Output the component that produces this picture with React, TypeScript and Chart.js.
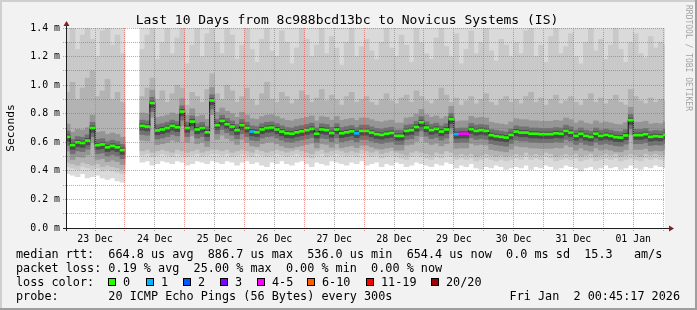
import React, { useEffect, useRef } from 'react';
import { Chart, registerables } from 'chart.js';

Chart.register(...registerables);

// ---- time buckets: 2-hour buckets, hours since 23 Dec 00:00 ----
const bucketStart: number[] = Array.from({ length: 121 }, (_, i) => i * 2);
const viewStart = 0.75; // 23 Dec 00:45:17
const viewEnd = 240.75; // 02 Jan 00:45:17

const xTickHours = [12, 36, 60, 84, 108, 132, 156, 180, 204, 228];
const xTickLabels = ['23 Dec', '24 Dec', '25 Dec', '26 Dec', '27 Dec', '28 Dec', '29 Dec', '30 Dec', '31 Dec', '01 Jan'];
const yTicks = [0, 0.1, 0.2, 0.3, 0.4, 0.5, 0.6, 0.7, 0.8, 0.9, 1.0, 1.1, 1.2, 1.3, 1.4];

// median rtt (ms) per bucket
const medianRtt: (number | null)[] = [
  0.638, 0.58, 0.60, 0.595, 0.612, 0.70, 0.58, 0.585, 0.565, 0.575,
  0.565, 0.545, null, null, null, 0.715, 0.71, 0.875, 0.683, 0.69,
  0.70, 0.715, 0.705, 0.815, 0.70, 0.745, 0.69, 0.70, 0.67, 0.893,
  0.72, 0.75, 0.727, 0.71, 0.685, 0.72, 0.70, 0.675, 0.67, 0.69,
  0.70, 0.703, 0.69, 0.675, 0.663, 0.66, 0.67, 0.677, 0.685, 0.694,
  0.66, 0.69, 0.685, 0.665, 0.69, 0.663, 0.67, 0.677, 0.663, 0.68,
  0.68, 0.668, 0.657, 0.652, 0.66, 0.665, 0.645, 0.645, 0.68, 0.685,
  0.707, 0.74, 0.703, 0.685, 0.694, 0.675, 0.69, 0.762, 0.657, 0.66,
  0.66, 0.692, 0.68, 0.685, 0.68, 0.65, 0.643, 0.638, 0.633, 0.652,
  0.675, 0.668, 0.668, 0.66, 0.66, 0.657, 0.657, 0.657, 0.663, 0.66,
  0.68, 0.668, 0.645, 0.66, 0.645, 0.638, 0.66, 0.645, 0.652, 0.645,
  0.636, 0.633, 0.648, 0.755, 0.65, 0.65, 0.657, 0.638, 0.643, 0.64,
  0.652,
];

// lowest ping per bucket (bottom of the smoke)
const smokeMin: (number | null)[] = [
  0.38, 0.37, 0.36, 0.38, 0.35, 0.36, 0.37, 0.35, 0.34, 0.35,
  0.33, 0.32, null, null, null, 0.46, 0.47, 0.44, 0.45, 0.47,
  0.46, 0.45, 0.47, 0.46, 0.44, 0.45, 0.47, 0.46, 0.45, 0.47,
  0.46, 0.45, 0.47, 0.46, 0.44, 0.46, 0.47, 0.45, 0.46, 0.44,
  0.43, 0.46, 0.45, 0.47, 0.45, 0.44, 0.46, 0.47, 0.45, 0.43,
  0.46, 0.45, 0.44, 0.47, 0.46, 0.45, 0.44, 0.46, 0.45, 0.47,
  0.44, 0.45, 0.46, 0.43, 0.45, 0.44, 0.46, 0.45, 0.43, 0.44,
  0.46, 0.45, 0.44, 0.43, 0.45, 0.44, 0.46, 0.45, 0.42, 0.44,
  0.43, 0.45, 0.42, 0.41, 0.43, 0.42, 0.44, 0.43, 0.41, 0.42,
  0.43, 0.42, 0.44, 0.41, 0.43, 0.42, 0.44, 0.43, 0.41, 0.42,
  0.44, 0.43, 0.42, 0.40, 0.42, 0.43, 0.41, 0.42, 0.44, 0.42,
  0.43, 0.41, 0.42, 0.44, 0.42, 0.41, 0.43, 0.42, 0.44, 0.43,
  0.42,
];

// lower quartile-ish ping per bucket
const smokeLowQ: (number | null)[] = [
  0.46, 0.45, 0.44, 0.46, 0.45, 0.44, 0.45, 0.43, 0.44, 0.43,
  0.42, 0.41, null, null, null, 0.54, 0.55, 0.53, 0.54, 0.55,
  0.54, 0.53, 0.55, 0.54, 0.53, 0.54, 0.55, 0.53, 0.54, 0.55,
  0.55, 0.54, 0.55, 0.53, 0.54, 0.55, 0.54, 0.53, 0.55, 0.54,
  0.53, 0.54, 0.55, 0.54, 0.53, 0.54, 0.55, 0.54, 0.53, 0.52,
  0.54, 0.55, 0.53, 0.54, 0.55, 0.54, 0.53, 0.54, 0.53, 0.55,
  0.54, 0.53, 0.54, 0.52, 0.53, 0.54, 0.53, 0.52, 0.51, 0.53,
  0.54, 0.53, 0.52, 0.51, 0.53, 0.52, 0.54, 0.53, 0.51, 0.52,
  0.51, 0.52, 0.50, 0.51, 0.52, 0.51, 0.50, 0.51, 0.50, 0.51,
  0.52, 0.51, 0.53, 0.51, 0.52, 0.51, 0.53, 0.52, 0.50, 0.51,
  0.52, 0.51, 0.52, 0.50, 0.51, 0.52, 0.50, 0.51, 0.52, 0.51,
  0.52, 0.50, 0.51, 0.52, 0.51, 0.50, 0.52, 0.51, 0.52, 0.51,
  0.51,
];

// upper quartile-ish ping per bucket
const smokeHighQ: (number | null)[] = [
  0.95, 1.02, 0.90, 0.98, 1.05, 1.10, 0.92, 0.96, 1.04, 0.90,
  0.95, 0.88, null, null, null, 0.92, 0.98, 1.05, 0.90, 0.96,
  0.88, 0.94, 1.00, 0.98, 0.86, 0.95, 0.92, 0.88, 0.97, 1.08,
  0.94, 0.90, 1.00, 0.96, 0.88, 0.92, 0.98, 0.90, 0.86, 0.94,
  1.02, 0.90, 0.88, 0.95, 0.92, 0.87, 0.90, 0.96, 0.93, 0.88,
  0.91, 0.97, 0.89, 0.93, 0.90, 0.86, 0.92, 0.95, 0.88, 0.90,
  0.92, 0.88, 0.86, 0.90, 0.94, 0.89, 0.87, 0.91, 0.93, 0.88,
  0.96, 0.92, 0.89, 0.87, 0.90, 0.98, 0.93, 0.88, 0.91, 0.86,
  0.89, 0.92, 0.87, 0.90, 0.94, 0.88, 0.86, 0.90, 0.92, 0.88,
  0.90, 0.87, 0.92, 0.95, 0.88, 0.91, 0.86, 0.90, 0.93, 0.87,
  0.89, 0.92, 0.88, 0.86, 0.90, 0.94, 0.88, 0.91, 0.87, 0.90,
  0.93, 0.88, 0.86, 0.97, 0.92, 0.89, 0.87, 0.91, 0.88, 0.90,
  0.89,
];

// high ping per bucket (top of the mid smoke, clipped at 1.4)
const smokeTop: (number | null)[] = [
  1.30, 1.40, 1.25, 1.35, 1.40, 1.32, 1.20, 1.38, 1.40, 1.28,
  1.35, 1.22, null, null, null, 1.25, 1.35, 1.40, 1.18, 1.30,
  1.40, 1.22, 1.33, 1.40, 1.15, 1.28, 1.40, 1.20, 1.36, 1.40,
  1.30, 1.22, 1.40, 1.35, 1.18, 1.28, 1.40, 1.25, 1.16, 1.32,
  1.40, 1.24, 1.20, 1.38, 1.30, 1.15, 1.26, 1.40, 1.32, 1.20,
  1.28, 1.40, 1.22, 1.34, 1.26, 1.14, 1.30, 1.40, 1.20, 1.27,
  1.32, 1.24, 1.18, 1.30, 1.40, 1.26, 1.20, 1.35, 1.28, 1.16,
  1.40, 1.30, 1.22, 1.18, 1.33, 1.40, 1.27, 1.20, 1.36, 1.15,
  1.25, 1.38, 1.22, 1.30, 1.40, 1.24, 1.17, 1.32, 1.28, 1.20,
  1.30, 1.22, 1.38, 1.40, 1.20, 1.28, 1.16, 1.34, 1.40, 1.22,
  1.27, 1.36, 1.20, 1.15, 1.30, 1.40, 1.24, 1.32, 1.18, 1.28,
  1.40, 1.25, 1.16, 1.30, 1.36, 1.22, 1.19, 1.34, 1.26, 1.30,
  1.28,
];

// packet loss class per bucket start hour (0 = none)
const lossByHour: Record<number, number> = { 74: 1, 116: 1, 156: 1, 158: 4, 160: 4 };

const lossColors = ['#26ff00', '#00b8ff', '#0059ff', '#7e00ff', '#ff00ff', '#ff5e00', '#ff0000', '#a10000'];
const lossLabels = ['0', '1', '2', '3', '4-5', '6-10', '11-19', '20/20'];

const legendMedian = 'median rtt:  664.8 us avg  886.7 us max  536.0 us min  654.4 us now  0.0 ms sd  15.3   am/s';
const legendLoss = 'packet loss: 0.19 % avg  25.00 % max  0.00 % min  0.00 % now';
const legendProbe = 'probe:       20 ICMP Echo Pings (56 Bytes) every 300s';
const legendDate = 'Fri Jan  2 00:45:17 2026';
const titleText = 'Last 10 Days from 8c988bcd13bc to Novicus Systems (IS)';

const MONO = '"DejaVu Sans Mono", monospace';

const BACK = '#f2f2f2';
const SHADEA = '#cfcfcf';
const SHADEB = '#9e9e9e';
const GRID = 'rgba(143,143,143,0.75)';
const MGRID = 'rgba(222,79,79,0.6)';
const ARROW = '#801f1f';
const AXIS = '#1f1f1f';

const rrdPlugin = {
  id: 'rrdlook',
  beforeDraw(chart: any) {
    const { ctx, width, height, chartArea } = chart;
    ctx.save();
    ctx.fillStyle = BACK;
    ctx.fillRect(0, 0, width, height);
    ctx.fillStyle = SHADEA;
    ctx.fillRect(0, 0, width, 2);
    ctx.fillRect(0, 0, 2, height);
    ctx.fillStyle = SHADEB;
    ctx.fillRect(0, height - 2, width, 2);
    ctx.fillRect(width - 2, 0, 2, height);
    ctx.fillStyle = '#ffffff';
    ctx.fillRect(chartArea.left, chartArea.top, chartArea.right - chartArea.left, chartArea.bottom - chartArea.top);
    ctx.restore();
  },
  afterDatasetsDraw(chart: any) {
    const { ctx, chartArea } = chart;
    const { left, right, top, bottom } = chartArea;
    const xs = chart.scales.x;
    const ys = chart.scales.y;
    ctx.save();
    ctx.lineWidth = 1;
    ctx.setLineDash([1, 1]);
    for (let h = 12; h <= 240; h += 12) {
      const px = Math.floor(xs.getPixelForValue(h)) + 0.5;
      if (px > right) continue;
      ctx.strokeStyle = h % 24 === 0 ? MGRID : GRID;
      ctx.beginPath();
      ctx.moveTo(px, bottom + 3);
      ctx.lineTo(px, top);
      ctx.stroke();
    }
    ctx.strokeStyle = MGRID;
    yTicks.forEach((v) => {
      if (v === 0) return;
      const py = Math.floor(ys.getPixelForValue(v)) + 0.5;
      ctx.beginPath();
      ctx.moveTo(left - 4, py);
      ctx.lineTo(right, py);
      ctx.stroke();
    });
    ctx.setLineDash([]);
    // axes
    ctx.strokeStyle = AXIS;
    const ax = left - 0.5;
    const ay = bottom + 0.5;
    ctx.beginPath();
    ctx.moveTo(left - 4, ay);
    ctx.lineTo(right + 4, ay);
    ctx.stroke();
    ctx.beginPath();
    ctx.moveTo(ax, bottom + 3);
    ctx.lineTo(ax, top - 2);
    ctx.stroke();
    // arrows
    ctx.fillStyle = ARROW;
    ctx.beginPath();
    ctx.moveTo(right + 4, ay - 3);
    ctx.lineTo(right + 9, ay);
    ctx.lineTo(right + 4, ay + 3);
    ctx.closePath();
    ctx.fill();
    ctx.beginPath();
    ctx.moveTo(ax - 3, top - 2);
    ctx.lineTo(ax, top - 7);
    ctx.lineTo(ax + 3, top - 2);
    ctx.closePath();
    ctx.fill();
    ctx.restore();
  },
  afterDraw(chart: any) {
    const { ctx, chartArea } = chart;
    ctx.save();
    ctx.fillStyle = '#000';
    // title
    ctx.font = `13px ${MONO}`;
    ctx.textAlign = 'center';
    ctx.textBaseline = 'alphabetic';
    ctx.fillText(titleText, 347, 24);
    // unit label
    ctx.save();
    ctx.font = `11.3px ${MONO}`;
    ctx.translate(11, (chartArea.top + chartArea.bottom) / 2);
    ctx.rotate(-Math.PI / 2);
    ctx.textAlign = 'center';
    ctx.textBaseline = 'middle';
    ctx.fillText('Seconds', 0, 0);
    ctx.restore();
    // watermark
    ctx.save();
    ctx.font = `8px ${MONO}`;
    ctx.fillStyle = 'rgba(0,0,0,0.35)';
    ctx.translate(686, 5);
    ctx.rotate(Math.PI / 2);
    ctx.textAlign = 'left';
    ctx.textBaseline = 'alphabetic';
    ctx.fillText('RRDTOOL / TOBI OETIKER', 0, 0);
    ctx.restore();
    // legend
    ctx.font = `11.8px ${MONO}`;
    ctx.textAlign = 'left';
    ctx.textBaseline = 'alphabetic';
    ctx.fillText(legendMedian, 16, 258);
    ctx.fillText(legendLoss, 16, 272);
    ctx.fillText('loss color:', 16, 286);
    const swX = [108, 145.5, 182.5, 219.5, 256.5, 306.5, 365.5, 430.5];
    swX.forEach((sx, i) => {
      const bx = Math.round(sx);
      ctx.fillStyle = lossColors[i];
      ctx.fillRect(bx, 278, 8, 8);
      ctx.strokeStyle = '#000';
      ctx.lineWidth = 1;
      ctx.strokeRect(bx + 0.5, 278.5, 7, 7);
      ctx.fillStyle = '#000';
      ctx.fillText(lossLabels[i], bx + 15, 286);
    });
    ctx.fillText(legendProbe, 16, 300);
    ctx.textAlign = 'right';
    ctx.fillText(legendDate, 680, 300);
    ctx.restore();
  },
};

export default function App() {
  const ref = useRef<HTMLCanvasElement | null>(null);

  useEffect(() => {
    if (!ref.current) return;
    const present = bucketStart.map((_, i) => i).filter((i) => medianRtt[i] !== null);
    const center = (i: number) => bucketStart[i] + 1;

    const band = (
      lo: (i: number) => number,
      hi: (i: number) => number,
      color: string,
      order: number
    ) => ({
      type: 'bar' as const,
      data: present.map((i) => ({ x: center(i), y: [lo(i), hi(i)] })),
      backgroundColor: color,
      borderWidth: 0,
      grouped: false,
      barPercentage: 1,
      categoryPercentage: 1,
      order,
      clip: 0,
    });

    const m = (i: number) => medianRtt[i] as number;
    const datasets: any[] = [
      band((i) => smokeMin[i] as number, () => 1.4, '#dadada', 20),
      band((i) => (smokeLowQ[i] as number) - 0.03, (i) => smokeTop[i] as number, '#c9c9c9', 19),
      band((i) => smokeLowQ[i] as number, (i) => smokeHighQ[i] as number, '#b3b3b3', 18),
      band((i) => m(i) - 0.1, (i) => m(i) + 0.09, '#959595', 17),
      band((i) => m(i) - 0.06, (i) => m(i) + 0.04, '#717171', 16),
      band((i) => m(i) - 0.03, (i) => m(i) + 0.015, '#4c4c4c', 15),
      {
        type: 'line',
        data: bucketStart.map((h, i) => ({ x: h + 1, y: medianRtt[i] })),
        borderColor: '#1a1a1a',
        borderWidth: 1,
        stepped: 'middle',
        pointRadius: 0,
        spanGaps: false,
        order: 2,
        clip: 0,
      },
      {
        type: 'bar',
        data: present.map((i) => ({ x: center(i), y: [m(i) - 0.007, m(i) + 0.007] })),
        backgroundColor: present.map((i) => lossColors[lossByHour[bucketStart[i]] ?? 0]),
        borderWidth: 0,
        grouped: false,
        barPercentage: 1,
        categoryPercentage: 1,
        order: 1,
        clip: 0,
      },
    ];

    const chart = new Chart(ref.current, {
      type: 'bar',
      data: { datasets },
      plugins: [rrdPlugin],
      options: {
        responsive: false,
        animation: false,
        devicePixelRatio: 1,
        events: [],
        layout: { padding: { left: 0, top: 28, right: 32, bottom: 0 } },
        plugins: {
          legend: { display: false },
          title: { display: false },
          tooltip: { enabled: false },
        },
        scales: {
          x: {
            type: 'linear',
            min: viewStart,
            max: viewEnd,
            offset: false,
            grid: { display: false, drawTicks: false },
            border: { display: false },
            afterBuildTicks: (s: any) => {
              s.ticks = xTickHours.map((v) => ({ value: v }));
            },
            afterFit: (s: any) => {
              s.height = 82;
            },
            ticks: {
              autoSkip: false,
              maxRotation: 0,
              minRotation: 0,
              padding: 5,
              color: '#000',
              font: { family: MONO, size: 9.9 },
              callback: (_v: any, idx: number) => xTickLabels[idx],
            },
          },
          y: {
            type: 'linear',
            min: 0,
            max: 1.4,
            grid: { display: false, drawTicks: false },
            border: { display: false },
            afterBuildTicks: (s: any) => {
              s.ticks = yTicks.map((v) => ({ value: v }));
            },
            afterFit: (s: any) => {
              s.width = 67;
            },
            ticks: {
              padding: 7,
              color: '#000',
              font: { family: MONO, size: 9.9 },
              callback: (v: any) => `${Number(v).toFixed(1)} m`,
            },
          },
        },
      } as any,
    });
    return () => chart.destroy();
  }, []);

  return (
    <div style={{ position: 'absolute', left: 0, top: 0, width: 697, height: 310 }}>
      <canvas ref={ref} width={697} height={310} style={{ display: 'block', width: 697, height: 310 }} />
    </div>
  );
}
